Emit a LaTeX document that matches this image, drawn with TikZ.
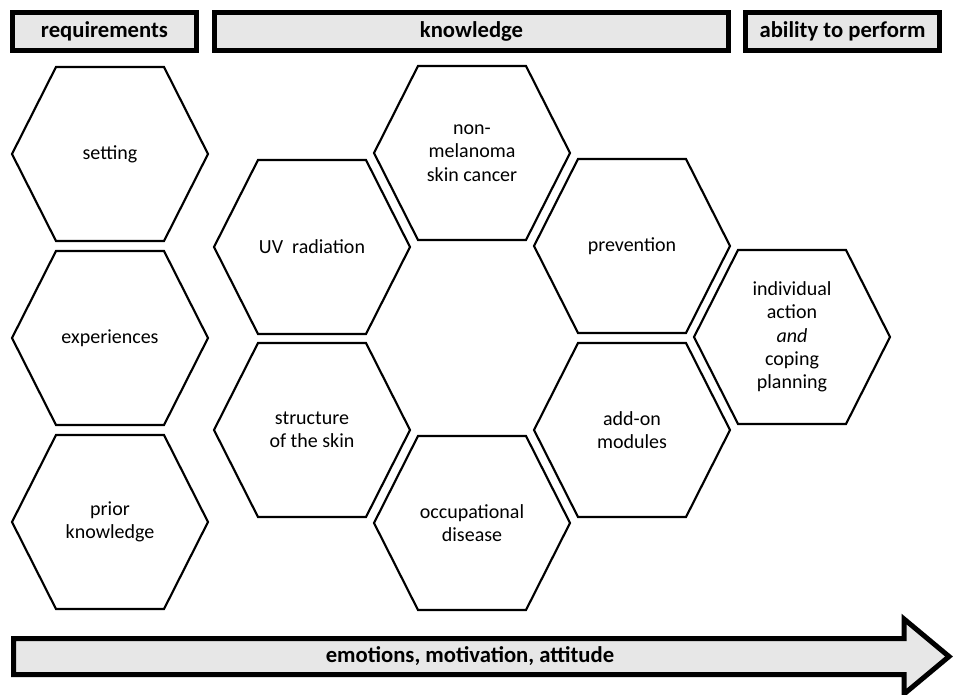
\documentclass[tikz,border=0pt]{standalone}
\usepackage{fontspec}
\setmainfont{Carlito}
\usetikzlibrary{positioning}

\definecolor{barfill}{RGB}{231,231,231}

\begin{document}
\begin{tikzpicture}[
    x=0.75pt, y=-0.75pt,          % 1 unit = 1 pixel of the layout
    bar/.style={draw, line width=3.75pt, fill=barfill, minimum height=28.5pt, inner sep=0pt,
                font=\fontsize{17}{20}\selectfont\bfseries},
    hextext/.style={align=center, inner sep=0pt, font=\fontsize{15}{17.5}\selectfont},
    hexline/.style={draw, line width=1.6pt, line join=miter},
    hexa/.pic={\draw[hexline] (-98,0) -- (-54,-87) -- (54,-87) -- (98,0) -- (54,87) -- (-54,87) -- cycle;}
  ]
  \useasboundingbox (0,0) rectangle (956,695);

  % Kopfleisten
  \node[bar, minimum width=138pt]   (requirements) at (104.5,31.5) {requirements};
  \node[bar, minimum width=385.5pt] (knowledge)    at (471.5,31.5) {knowledge};
  \node[bar, minimum width=145.5pt] (ability)      at (842.5,31.5) {ability to perform};

  % Waben: Voraussetzungen
  \node[hextext] (setting)     at (110,154) {setting};
  \node[hextext] (experiences) at (110,338) {experiences};
  \node[hextext] (prior)       at (110,522) {prior\\knowledge};

  % Waben: Wissen
  \node[hextext] (uv)           at (312,247) {UV\ \ radiation};
  \node[hextext] (structure)    at (312,430) {structure\\of the skin};
  \node[hextext] (nonmelanoma)  at (472,153) {non-\\melanoma\\skin cancer};
  \node[hextext] (occupational) at (472,523) {occupational\\disease};
  \node[hextext] (prevention)   at (632,246) {prevention};
  \node[hextext] (addon)        at (632,430) {add-on\\modules};

  % Wabe: Handlungsfaehigkeit
  \node[hextext] (individual)   at (792,337) {individual\\action\\\textit{and}\\coping\\planning};

  \foreach \h in {setting, experiences, prior, uv, structure, nonmelanoma,
                  occupational, prevention, addon, individual}
    \pic at (\h) {hexa};

  % Pfeil unten
  \draw[line width=3.75pt, fill=barfill, line join=miter]
    (13.5,638.5) -- (904,638.5) -- (904,619) -- (949,656.5) -- (904,694) -- (904,674.5) -- (13.5,674.5) -- cycle;
  \node[font=\fontsize{17}{20}\selectfont\bfseries] (emotions) at (470,656.5) {emotions, motivation, attitude};

\end{tikzpicture}
\end{document}
